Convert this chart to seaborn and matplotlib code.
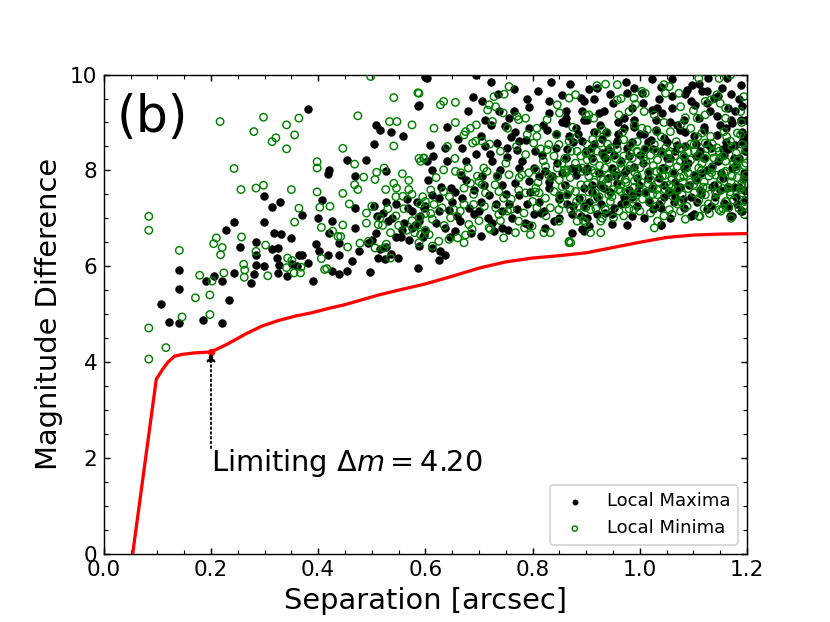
import matplotlib
matplotlib.use("Agg")
import matplotlib.pyplot as plt
import seaborn as sns
from matplotlib.ticker import MultipleLocator

# contrast curve (5-sigma limit)
curve_sep = [0.054, 0.098, 0.11, 0.12, 0.132, 0.147, 0.17, 0.2, 0.23, 0.264, 0.295, 0.327,
             0.358, 0.389, 0.42, 0.451, 0.513, 0.55, 0.6, 0.65, 0.7, 0.75, 0.8, 0.85, 0.9,
             0.95, 1.0, 1.05, 1.1, 1.15, 1.2]
curve_dm = [0.0, 3.64, 3.85, 4.0, 4.12, 4.16, 4.19, 4.21, 4.37, 4.58, 4.75, 4.87,
            4.96, 5.03, 5.12, 5.2, 5.4, 5.5, 5.63, 5.79, 5.96, 6.09, 6.17, 6.22, 6.28,
            6.39, 6.5, 6.6, 6.65, 6.67, 6.68]

limit_sep = 0.2
limit_dm = 4.20

maxima_points = [
    (0.107, 5.21), (0.121, 4.84), (0.140, 4.81), (0.140, 5.53), (0.141, 5.91), (0.185, 4.88),
    (0.221, 4.81), (0.234, 5.29), (0.190, 5.69), (0.206, 5.79), (0.221, 5.69), (0.228, 6.76),
    (0.243, 6.92), (0.243, 5.85), (0.254, 6.40), (0.274, 5.65), (0.280, 5.83), (0.284, 6.51),
    (0.284, 6.23), (0.284, 6.03), (0.298, 6.92), (0.298, 7.46), (0.298, 6.00), (0.314, 7.24),
    (0.328, 7.34), (0.317, 6.69), (0.331, 6.67), (0.314, 6.35), (0.325, 6.38), (0.323, 6.17),
    (0.326, 6.02), (0.325, 5.86), (0.342, 5.79), (0.350, 6.59), (0.352, 6.05), (0.361, 6.00),
    (0.364, 6.23), (0.370, 7.06), (0.370, 6.24), (0.381, 6.07), (0.391, 5.70), (0.381, 9.28),
    (0.396, 6.46), (0.399, 7.01), (0.401, 6.31), (0.407, 7.38), (0.418, 6.24), (0.426, 6.94),
    (0.421, 6.69), (0.425, 5.90), (0.420, 8.01), (0.418, 7.93), (0.438, 5.83), (0.438, 6.24),
    (0.439, 6.48), (0.454, 8.21), (0.454, 5.90), (0.468, 7.88), (0.469, 7.21), (0.468, 6.80),
    (0.463, 6.10), (0.476, 6.31), (0.490, 8.21), (0.497, 5.88), (0.493, 6.48), (0.504, 8.55),
    (0.508, 8.95), (0.516, 8.85), (0.510, 7.04), (0.507, 6.69), (0.512, 6.17), (0.526, 7.98),
    (0.526, 7.34), (0.535, 8.80), (0.526, 6.40), (0.525, 6.14), (0.538, 7.01), (0.548, 6.17),
    (0.558, 8.71), (0.557, 6.76), (0.568, 7.21), (0.575, 6.80), (0.586, 5.97), (0.586, 9.35),
    (0.588, 6.94), (0.600, 9.96), (0.597, 6.65), (0.603, 8.19),
    (0.505, 7.25), (0.520, 7.10), (0.530, 6.95), (0.545, 7.30), (0.560, 6.90), (0.575, 7.15),
    (0.590, 7.05), (0.555, 6.60), (0.570, 6.55), (0.580, 6.85), (0.500, 6.55), (0.515, 6.35),
    (0.535, 6.25), (0.545, 6.60), (0.595, 6.60), (0.565, 7.40), (0.585, 7.35), (0.600, 7.25),
    (0.603, 9.92), (0.694, 9.99), (0.722, 9.85), (0.688, 9.54), (0.588, 9.37), (0.737, 9.23),
    (0.765, 9.24), (0.793, 9.33), (0.831, 9.19), (0.855, 9.58), (0.862, 9.23), (0.890, 9.51),
    (0.892, 9.23), (0.756, 9.09), (0.712, 9.06), (0.722, 8.95), (0.749, 8.92), (0.768, 8.81),
    (0.793, 8.88), (0.827, 8.85), (0.843, 8.77), (0.862, 9.09), (0.862, 8.99), (0.880, 8.88),
    (0.868, 8.71), (0.703, 8.71), (0.669, 8.47), (0.637, 8.47), (0.609, 8.54), (0.712, 8.50),
    (0.734, 8.57), (0.753, 8.47), (0.774, 8.61), (0.787, 8.64), (0.771, 8.43), (0.818, 8.33),
    (0.843, 8.47), (0.892, 8.61), (0.899, 8.40), (0.640, 8.19), (0.675, 8.19), (0.725, 8.19),
    (0.753, 8.29), (0.612, 8.01), (0.774, 8.05), (0.802, 8.05), (0.824, 7.98), (0.862, 8.26),
    (0.874, 8.05), (0.647, 7.63), (0.666, 7.91), (0.706, 7.88), (0.734, 7.88), (0.743, 7.70),
    (0.768, 7.73), (0.793, 7.77), (0.812, 7.88), (0.837, 7.88), (0.880, 7.91), (0.899, 7.98),
    (0.612, 7.49), (0.625, 7.42), (0.650, 7.35), (0.669, 7.42), (0.681, 7.22), (0.703, 7.35),
    (0.718, 7.49), (0.731, 7.29), (0.756, 7.29), (0.774, 7.49), (0.790, 7.29), (0.812, 7.35),
    (0.830, 7.63), (0.849, 7.49), (0.865, 7.29), (0.886, 7.42), (0.895, 7.63), (0.597, 7.22),
    (0.625, 7.15), (0.644, 7.18), (0.659, 7.04), (0.690, 7.08), (0.716, 7.01), (0.743, 7.15),
    (0.762, 7.01), (0.802, 7.08), (0.821, 7.15), (0.849, 7.01), (0.874, 7.08), (0.600, 6.73),
    (0.637, 6.80), (0.656, 6.73), (0.703, 6.63), (0.728, 6.73), (0.743, 6.80), (0.793, 6.87),
    (0.824, 6.80), (0.874, 6.70), (0.612, 6.38), (0.628, 6.31), (0.637, 6.24), (0.625, 6.13),
    (0.588, 6.42), (0.892, 6.77), (0.948, 6.88), (1.040, 6.87), (1.172, 7.04), (1.190, 7.15),
    (0.920, 9.72), (0.976, 9.61), (0.989, 9.72), (1.004, 9.61), (1.023, 9.90), (1.060, 9.90),
    (1.098, 9.79), (1.088, 9.68), (1.116, 9.65), (1.128, 9.92), (1.153, 9.72), (1.163, 9.92),
    (1.188, 9.79), (0.896, 9.44), (0.924, 9.19), (0.933, 9.23), (0.970, 9.09), (0.989, 9.06),
    (1.023, 9.26), (1.032, 9.30), (1.042, 9.19), (1.057, 9.02), (1.082, 9.06), (1.103, 9.37),
    (1.126, 9.40), (1.138, 9.51), (1.178, 9.23), (1.188, 9.06), (1.144, 9.13), (0.902, 9.06),
    (0.914, 8.81), (0.936, 8.81), (0.958, 8.61), (0.970, 8.88), (1.008, 8.77), (1.020, 8.64),
    (1.045, 8.68), (1.070, 8.54), (1.085, 8.81), (1.101, 8.71), (1.119, 8.85), (1.144, 8.74),
    (1.160, 8.88), (1.172, 8.99), (1.191, 8.81), (0.908, 8.47), (0.930, 8.36), (0.951, 8.33),
    (0.976, 8.47), (1.001, 8.33), (1.039, 8.40), (1.057, 8.26), (1.082, 8.29), (1.113, 8.40),
    (1.132, 8.47), (1.157, 8.33), (1.178, 8.54), (1.197, 8.40), (0.902, 8.05), (0.924, 7.95),
    (0.949, 8.05), (0.970, 7.95), (0.989, 8.08), (1.017, 7.98), (1.042, 8.05), (1.064, 7.95),
    (1.082, 8.05), (1.101, 7.91), (1.126, 8.01), (1.151, 7.95), (1.172, 8.05), (1.194, 7.95),
    (0.911, 7.70), (0.933, 7.63), (0.958, 7.73), (0.980, 7.59), (0.998, 7.70), (1.023, 7.63),
    (1.045, 7.70), (1.070, 7.59), (1.092, 7.70), (1.113, 7.59), (1.138, 7.70), (1.163, 7.63),
    (1.185, 7.66), (0.905, 7.35), (0.927, 7.29), (0.951, 7.22), (0.973, 7.35), (0.995, 7.25),
    (1.017, 7.35), (1.039, 7.22), (1.064, 7.35), (1.082, 7.22), (1.107, 7.35), (1.132, 7.25),
    (1.157, 7.32), (1.182, 7.29), (1.197, 7.39), (0.902, 7.01), (0.920, 7.08), (0.949, 7.08),
    (0.976, 6.87), (1.008, 7.01), (1.039, 6.87), (1.057, 7.01), (1.101, 7.08), (1.169, 7.04),
    (1.188, 7.15), (0.896, 6.73), (0.905, 6.84),
    (0.910, 7.55), (0.940, 7.85), (0.965, 8.20), (0.985, 7.45), (1.010, 8.45), (1.035, 7.85),
    (1.050, 8.60), (1.065, 7.45), (1.085, 8.50), (1.105, 7.80), (1.120, 8.25), (1.140, 7.45),
    (1.160, 8.60), (1.180, 8.10), (1.195, 7.60), (0.930, 8.65), (0.960, 9.00), (1.000, 8.75),
    (1.030, 9.05), (1.075, 8.85), (1.110, 9.10), (1.150, 8.95), (1.190, 9.35), (0.950, 9.40),
    (1.035, 9.50), (1.095, 9.45), (1.170, 9.60),
    (0.605, 7.80), (0.615, 8.30), (0.620, 6.90), (0.630, 7.65), (0.640, 8.90), (0.645, 6.60),
    (0.655, 7.55), (0.660, 8.65), (0.665, 6.95), (0.675, 7.80), (0.680, 9.25), (0.685, 6.70),
    (0.695, 8.35), (0.700, 7.15), (0.690, 7.60), (0.705, 9.45), (0.710, 7.70), (0.720, 8.35),
    (0.725, 6.90), (0.735, 9.60), (0.740, 8.00), (0.750, 7.50), (0.755, 6.75), (0.760, 8.70),
    (0.765, 9.70), (0.770, 7.20), (0.780, 8.20), (0.785, 6.90), (0.790, 9.50), (0.795, 7.55),
    (0.805, 8.40), (0.810, 9.65), (0.815, 7.10), (0.820, 8.95), (0.830, 7.75), (0.835, 9.85),
    (0.840, 6.95), (0.845, 8.15), (0.850, 7.40), (0.855, 9.00), (0.860, 7.70), (0.865, 8.45),
    (0.870, 9.80), (0.875, 7.25), (0.885, 8.75), (0.890, 7.05), (0.895, 9.05), (0.905, 9.70),
    (0.910, 8.25), (0.920, 7.45), (0.925, 8.95), (0.935, 7.10), (0.940, 8.45), (0.945, 9.60),
    (0.955, 7.90), (0.960, 8.75), (0.970, 7.45), (0.975, 9.85), (0.980, 8.30), (0.985, 7.05),
    (0.990, 8.90), (0.995, 7.85), (1.005, 9.40), (1.010, 7.55), (1.015, 8.60), (1.025, 7.20),
    (1.030, 8.85), (1.040, 9.75), (1.045, 7.45), (1.050, 8.25), (1.060, 9.30), (1.065, 7.75),
    (1.070, 8.95), (1.080, 7.40), (1.085, 9.60), (1.090, 8.15), (1.095, 7.05), (1.105, 8.55),
    (1.110, 9.80), (1.115, 7.50), (1.120, 8.90), (1.125, 7.20), (1.130, 9.25), (1.135, 8.10),
    (1.145, 9.55), (1.150, 7.60), (1.155, 8.45), (1.165, 7.25), (1.170, 9.05), (1.175, 8.25),
    (1.180, 7.45), (1.185, 9.50), (1.190, 8.60), (1.195, 7.85), (1.198, 9.05),
    (0.855, 7.95), (0.865, 7.50), (0.875, 8.60), (0.885, 8.05), (0.895, 7.25), (0.915, 8.55),
    (0.925, 7.70), (0.935, 8.25), (0.945, 7.55), (0.955, 8.55), (0.965, 7.30), (0.975, 8.00),
    (0.985, 8.60), (0.995, 7.55), (1.005, 8.15), (1.015, 7.85), (1.025, 8.45), (1.035, 7.30),
    (1.045, 8.05), (1.055, 7.55), (1.065, 8.40), (1.075, 7.65), (1.085, 8.15), (1.095, 7.45),
    (1.105, 8.30), (1.115, 7.95), (1.125, 8.55), (1.135, 7.65), (1.145, 8.20), (1.155, 7.85),
    (1.165, 8.45), (1.175, 7.65), (1.185, 8.25), (1.195, 8.70), (1.165, 9.30), (1.125, 9.65),
    (1.060, 9.55), (0.985, 9.30), (0.915, 9.50), (0.830, 9.45),
]

minima_points = [
    (0.084, 7.04), (0.084, 6.75), (0.084, 4.71), (0.084, 4.06), (0.116, 4.30), (0.141, 6.33),
    (0.146, 4.94), (0.171, 5.34), (0.179, 5.81), (0.198, 5.40), (0.198, 4.99), (0.202, 5.69),
    (0.205, 6.47), (0.210, 6.59), (0.218, 6.24), (0.221, 6.39), (0.224, 5.86), (0.217, 9.02),
    (0.243, 8.04), (0.256, 7.60), (0.257, 6.61), (0.261, 6.04), (0.262, 5.77), (0.263, 5.92),
    (0.280, 8.81), (0.284, 7.63), (0.284, 6.31), (0.298, 9.11), (0.298, 7.69), (0.302, 6.44),
    (0.306, 5.80), (0.314, 8.60), (0.321, 8.68), (0.341, 8.45), (0.341, 8.95), (0.356, 8.74),
    (0.364, 9.09), (0.350, 7.60), (0.356, 6.92), (0.364, 7.21), (0.341, 5.97), (0.343, 6.17),
    (0.351, 6.12), (0.355, 5.86), (0.367, 5.86), (0.368, 5.98), (0.398, 8.18), (0.398, 8.05),
    (0.398, 7.55), (0.403, 7.23), (0.406, 6.81), (0.406, 6.16), (0.412, 5.93), (0.416, 5.95),
    (0.422, 7.25), (0.427, 6.73), (0.437, 6.62), (0.442, 6.62), (0.446, 8.46), (0.446, 7.52),
    (0.446, 6.86), (0.455, 6.40), (0.458, 7.30), (0.468, 8.13), (0.468, 7.70), (0.474, 9.14),
    (0.474, 7.60), (0.478, 6.48), (0.485, 7.86), (0.490, 7.11), (0.490, 6.90), (0.494, 6.52),
    (0.498, 9.96), (0.506, 7.81), (0.509, 7.96), (0.506, 6.38), (0.523, 6.38), (0.512, 6.87),
    (0.523, 8.05), (0.526, 7.60), (0.527, 6.46), (0.533, 9.02), (0.535, 6.17), (0.541, 8.51),
    (0.541, 9.52), (0.541, 7.73), (0.547, 9.02), (0.546, 7.63), (0.557, 7.93), (0.558, 7.46),
    (0.569, 7.79), (0.569, 7.60), (0.575, 8.95), (0.586, 9.62), (0.588, 8.25), (0.597, 8.25),
    (0.500, 7.25), (0.515, 7.00), (0.530, 7.20), (0.545, 7.05), (0.560, 7.20), (0.575, 6.95),
    (0.590, 7.30), (0.600, 7.10), (0.580, 6.70), (0.565, 6.75), (0.550, 6.85), (0.535, 6.70),
    (0.520, 6.85), (0.545, 7.45), (0.575, 7.50), (0.595, 7.45), (0.585, 6.85), (0.600, 6.75),
    (0.588, 9.61), (0.656, 9.42), (0.628, 9.37), (0.634, 9.44), (0.747, 9.59), (0.756, 9.75),
    (0.728, 9.54), (0.719, 9.37), (0.731, 9.33), (0.716, 9.26), (0.656, 9.00), (0.616, 8.88),
    (0.675, 8.81), (0.684, 8.88), (0.672, 8.74), (0.774, 9.06), (0.787, 9.09), (0.771, 9.13),
    (0.827, 9.06), (0.846, 9.37), (0.868, 9.51), (0.880, 9.58), (0.899, 9.16), (0.808, 8.88),
    (0.753, 8.88), (0.725, 9.02), (0.694, 8.61), (0.706, 8.61), (0.688, 8.57), (0.641, 8.50),
    (0.808, 8.71), (0.802, 8.57), (0.830, 8.54), (0.827, 8.43), (0.849, 8.54), (0.868, 8.61),
    (0.880, 8.68), (0.883, 8.40), (0.787, 8.33), (0.740, 8.40), (0.597, 8.26), (0.591, 8.19),
    (0.656, 7.98), (0.634, 8.01), (0.666, 7.95), (0.709, 8.05), (0.715, 7.98), (0.697, 7.88),
    (0.700, 7.77), (0.734, 7.88), (0.756, 7.91), (0.780, 7.91), (0.793, 7.95), (0.806, 8.01),
    (0.824, 8.08), (0.846, 8.05), (0.855, 8.15), (0.865, 8.01), (0.892, 7.98), (0.902, 8.22),
    (0.610, 7.59), (0.634, 7.56), (0.672, 7.63), (0.684, 7.73), (0.706, 7.70), (0.712, 7.53),
    (0.737, 7.56), (0.746, 7.42), (0.774, 7.59), (0.787, 7.53), (0.806, 7.63), (0.812, 7.53),
    (0.824, 7.42), (0.840, 7.56), (0.855, 7.66), (0.865, 7.49), (0.880, 7.56), (0.892, 7.42),
    (0.600, 7.35), (0.616, 7.29), (0.631, 7.22), (0.653, 7.18), (0.672, 7.29), (0.690, 7.29),
    (0.731, 7.22), (0.759, 7.18), (0.784, 7.11), (0.808, 7.22), (0.833, 7.22), (0.849, 7.18),
    (0.871, 7.18), (0.886, 7.08), (0.899, 7.22), (0.588, 7.01), (0.613, 6.98), (0.647, 7.01),
    (0.681, 6.87), (0.719, 6.80), (0.737, 7.08), (0.753, 7.15), (0.774, 6.94), (0.799, 6.84),
    (0.821, 6.70), (0.833, 6.70), (0.849, 6.94), (0.883, 6.94), (0.591, 6.66), (0.607, 6.66),
    (0.625, 6.52), (0.644, 6.56), (0.660, 6.59), (0.672, 6.49), (0.687, 6.77), (0.721, 6.77),
    (0.746, 6.59), (0.768, 6.70), (0.796, 6.66), (0.868, 6.52), (0.871, 6.49), (0.613, 6.42),
    (0.588, 6.49), (0.868, 6.49),
    (0.920, 9.77), (0.936, 9.80), (0.958, 9.79), (0.989, 9.51), (0.992, 9.38), (0.958, 9.47),
    (1.004, 9.65), (1.010, 9.61), (1.045, 9.79), (1.055, 9.75), (1.048, 9.61), (1.073, 9.61),
    (1.076, 9.33), (1.110, 9.92), (1.148, 9.92), (1.144, 9.58), (1.122, 9.44), (1.132, 9.47),
    (1.169, 9.99), (1.194, 9.54), (0.905, 9.16), (0.914, 9.09), (0.961, 9.16), (0.980, 9.23),
    (1.008, 9.23), (1.027, 9.16), (1.076, 8.95), (1.107, 9.09), (1.122, 9.16), (1.160, 9.09),
    (1.188, 9.23), (1.004, 8.88), (1.014, 8.85), (1.032, 8.81), (0.920, 8.78), (0.939, 8.78),
    (0.970, 8.64), (1.057, 8.81), (1.095, 8.88), (1.116, 8.78), (1.132, 8.71), (1.157, 8.81),
    (1.182, 8.78), (0.902, 8.54), (0.927, 8.57), (0.946, 8.47), (0.983, 8.54), (0.995, 8.40),
    (1.027, 8.54), (1.048, 8.47), (1.076, 8.47), (1.101, 8.54), (1.122, 8.57), (1.144, 8.47),
    (1.169, 8.61), (1.191, 8.54), (0.914, 8.19), (0.939, 8.22), (0.964, 8.15), (0.986, 8.26),
    (1.011, 8.19), (1.033, 8.22), (1.055, 8.15), (1.076, 8.19), (1.095, 8.22), (1.116, 8.15),
    (1.138, 8.26), (1.160, 8.19), (1.182, 8.22), (1.198, 8.15), (0.905, 7.88), (0.927, 7.84),
    (0.951, 7.88), (0.973, 7.81), (0.995, 7.88), (1.020, 7.81), (1.042, 7.88), (1.060, 7.81),
    (1.082, 7.88), (1.107, 7.81), (1.129, 7.88), (1.151, 7.81), (1.172, 7.88), (1.194, 7.81),
    (0.917, 7.53), (0.942, 7.49), (0.964, 7.56), (0.986, 7.49), (1.011, 7.53), (1.033, 7.49),
    (1.055, 7.56), (1.079, 7.49), (1.101, 7.53), (1.122, 7.49), (1.144, 7.53), (1.169, 7.49),
    (1.191, 7.53), (0.908, 7.18), (0.936, 7.18), (0.961, 7.15), (0.989, 7.18), (1.020, 7.11),
    (1.055, 7.18), (1.076, 7.15), (1.110, 7.04), (1.151, 7.15), (1.166, 7.22), (1.194, 7.25),
    (0.899, 6.91), (0.927, 6.94), (0.951, 7.01), (1.027, 6.80), (1.033, 6.94), (1.060, 7.08),
    (1.148, 7.18), (0.908, 6.70), (0.927, 6.70), (1.112, 7.04),
    (0.810, 7.75), (0.830, 7.90), (0.850, 7.80), (0.870, 7.85), (0.890, 7.70), (0.820, 8.20),
    (0.840, 8.30), (0.860, 8.25), (0.880, 8.15), (0.900, 8.35), (0.915, 7.40), (0.930, 7.65),
    (0.945, 7.35), (0.960, 7.60), (0.975, 7.30), (0.990, 7.65), (1.005, 7.40), (1.025, 7.65),
    (1.040, 7.35), (1.060, 7.65), (1.075, 7.35), (1.090, 7.62), (1.110, 7.38), (1.125, 7.64),
    (1.140, 7.36), (1.155, 7.62), (1.175, 7.38), (1.190, 7.66), (0.910, 8.00), (0.935, 8.05),
    (0.955, 7.98), (0.980, 8.02), (1.000, 8.05), (1.030, 7.98), (1.050, 8.02), (1.070, 8.08),
    (1.090, 7.95), (1.115, 8.00), (1.135, 8.06), (1.160, 7.98), (1.180, 8.03), (1.195, 8.10),
    (0.920, 8.40), (0.945, 8.36), (0.970, 8.30), (0.995, 8.38), (1.020, 8.32), (1.040, 8.36),
    (1.065, 8.30), (1.090, 8.38), (1.110, 8.32), (1.135, 8.38), (1.155, 8.30), (1.180, 8.36),
    (0.930, 7.00), (0.970, 7.05), (1.000, 7.15), (1.045, 7.05), (1.085, 6.98), (1.130, 7.10),
    (1.170, 7.00), (1.195, 7.08), (0.915, 7.75), (0.940, 7.72), (0.965, 7.70), (0.990, 7.78),
    (1.015, 7.72), (1.035, 7.76), (1.055, 7.70), (1.080, 7.76), (1.100, 7.70), (1.120, 7.76),
    (1.145, 7.70), (1.170, 7.76), (1.190, 7.72),
    (0.610, 7.10), (0.620, 7.85), (0.635, 6.85), (0.645, 7.45), (0.655, 8.25), (0.665, 7.15),
    (0.675, 6.65), (0.680, 8.05), (0.690, 7.50), (0.700, 6.95), (0.695, 8.95), (0.710, 7.25),
    (0.720, 8.55), (0.730, 7.70), (0.740, 6.95), (0.750, 8.15), (0.760, 7.40), (0.770, 8.50),
    (0.775, 7.85), (0.785, 6.80), (0.790, 8.75), (0.800, 7.35), (0.745, 9.20), (0.805, 7.55),
    (0.815, 8.45), (0.825, 7.05), (0.835, 7.85), (0.845, 8.75), (0.855, 7.30), (0.860, 8.00),
    (0.870, 7.60), (0.875, 8.90), (0.885, 7.25), (0.890, 8.30), (0.895, 6.95), (0.850, 9.20),
    (0.905, 7.55), (0.912, 8.65), (0.918, 7.20), (0.925, 8.10), (0.932, 7.80), (0.940, 8.55),
    (0.948, 7.45), (0.955, 8.25), (0.962, 7.85), (0.968, 8.80), (0.975, 7.55), (0.982, 8.10),
    (0.988, 7.40), (0.995, 8.60), (0.965, 9.50), (1.003, 7.75), (1.010, 8.45), (1.018, 7.35),
    (1.025, 8.10), (1.032, 7.60), (1.040, 8.70), (1.047, 7.90), (1.053, 8.35), (1.062, 7.45),
    (1.068, 8.60), (1.075, 7.85), (1.082, 8.30), (1.088, 7.25), (1.095, 8.55), (1.085, 9.10),
    (1.103, 7.90), (1.108, 8.70), (1.115, 7.55), (1.122, 8.25), (1.128, 7.30), (1.135, 8.55),
    (1.142, 7.90), (1.148, 8.40), (1.155, 7.20), (1.162, 8.70), (1.168, 7.55), (1.175, 8.15),
    (1.182, 7.85), (1.188, 8.75), (1.195, 7.35), (1.198, 8.45), (1.160, 9.30),
    (0.852, 7.45), (0.862, 7.95), (0.872, 8.40), (0.882, 7.35), (0.892, 8.05), (0.902, 7.70),
    (0.908, 8.40), (0.916, 7.95), (0.924, 7.45), (0.933, 8.30), (0.941, 7.90), (0.950, 7.60),
    (0.958, 8.45), (0.966, 8.05), (0.974, 7.75), (0.983, 8.35), (0.991, 7.95), (0.999, 7.60),
    (1.007, 8.25), (1.016, 7.95), (1.024, 7.50), (1.031, 8.40), (1.039, 8.00), (1.047, 7.60),
    (1.055, 8.40), (1.063, 7.95), (1.071, 7.60), (1.079, 8.45), (1.087, 8.05), (1.094, 7.75),
    (1.102, 8.40), (1.110, 8.05), (1.118, 7.65), (1.126, 8.45), (1.134, 7.95), (1.141, 7.55),
    (1.149, 8.25), (1.157, 7.95), (1.165, 7.65), (1.172, 8.50), (1.180, 8.10), (1.187, 7.60),
    (1.194, 8.30), (1.198, 7.90), (0.930, 8.85), (0.990, 8.95), (1.045, 9.00), (1.100, 9.25),
    (1.150, 9.40), (1.190, 9.00), (0.935, 7.20), (0.980, 7.20), (1.030, 7.25), (1.070, 7.30),
    (1.120, 7.20), (1.160, 7.35), (1.185, 7.20),
]

maxima_sep, maxima_dm = zip(*maxima_points)
minima_sep, minima_dm = zip(*minima_points)

sns.set_style("ticks", {"xtick.direction": "in", "ytick.direction": "in",
                        "xtick.top": True, "ytick.right": True,
                        "axes.edgecolor": "black", "text.color": "black",
                        "axes.labelcolor": "black", "xtick.color": "black",
                        "ytick.color": "black"})
plt.rcParams["font.family"] = ["DejaVu Sans"]

fig, ax = plt.subplots(figsize=(6.385, 4.785), dpi=130)

sns.scatterplot(x=list(maxima_sep), y=list(maxima_dm), color="k", s=22, linewidth=0,
                label="Local Maxima", ax=ax, zorder=2)
sns.scatterplot(x=list(minima_sep), y=list(minima_dm), facecolor="none", edgecolor="green",
                s=17, linewidth=0.8, label="Local Minima", ax=ax, zorder=3)
sns.lineplot(x=curve_sep, y=curve_dm, color="red", linewidth=1.8, ax=ax, zorder=4,
             sort=False, estimator=None)
ax.plot([limit_sep], [limit_dm], "o", color="red", markersize=3, zorder=5)

ax.annotate("", xy=(limit_sep, limit_dm), xytext=(limit_sep, 2.2),
            arrowprops=dict(arrowstyle="-|>", linestyle=":", color="k", lw=1,
                            shrinkA=0, shrinkB=0), zorder=6)
ax.text(limit_sep, 1.73, r"Limiting $\Delta m = %.2f$" % limit_dm, fontsize=16,
        ha="left", va="baseline")
ax.text(0.02, 0.88, "(b)", transform=ax.transAxes, fontsize=28, va="baseline")

ax.set_xlim(0, 1.2)
ax.set_ylim(0, 10)
ax.xaxis.set_major_locator(MultipleLocator(0.2))
ax.xaxis.set_minor_locator(MultipleLocator(0.05))
ax.yaxis.set_major_locator(MultipleLocator(2))
ax.yaxis.set_minor_locator(MultipleLocator(0.5))
ax.tick_params(which="both", direction="in", top=True, right=True, colors="black")
ax.tick_params(which="major", labelsize=12)
ax.tick_params(which="minor", length=2)

ax.set_xlabel("Separation [arcsec]", fontsize=16)
ax.set_ylabel("Magnitude Difference", fontsize=16)
ax.legend(loc="lower right", fontsize=10, markerscale=0.7)

fig.savefig("out.png", dpi=130)
